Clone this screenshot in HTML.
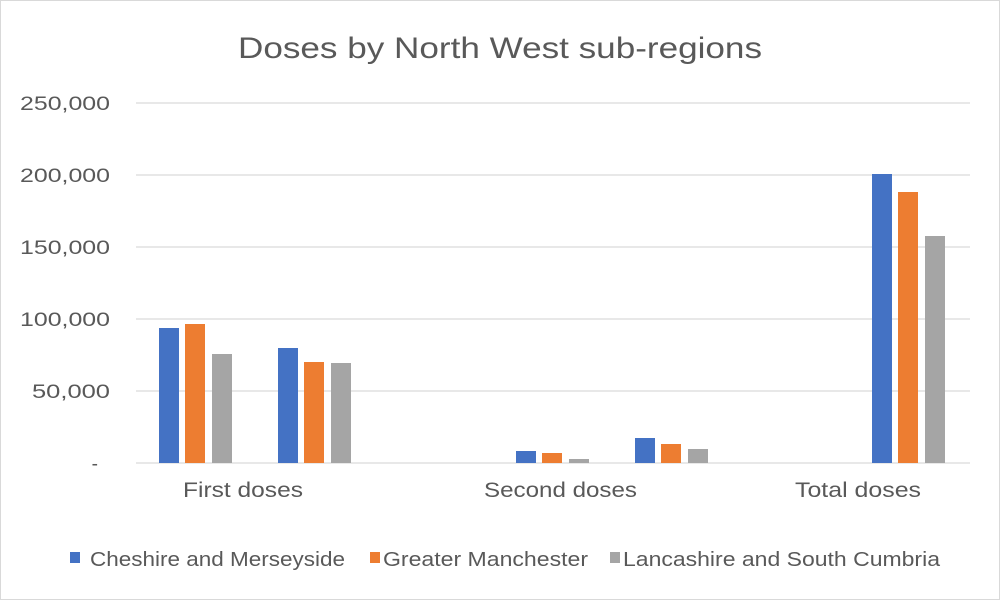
<!DOCTYPE html>
<html><head><meta charset="utf-8"><style>body{margin:0;background:#fff}svg{display:block}</style></head>
<body>
<svg width="1000" height="600" xmlns="http://www.w3.org/2000/svg" font-family="'Liberation Sans', sans-serif" fill="#595959">
<rect x="0.5" y="0.5" width="999" height="599" fill="#fff" stroke="#d9d9d9"/>
<text x="500" y="58" font-size="30" text-anchor="middle" textLength="524" lengthAdjust="spacingAndGlyphs">Doses by North West sub-regions</text>
<g stroke="#d9d9d9" stroke-width="1.3">
<line x1="136" x2="970" y1="103" y2="103"/><line x1="136" x2="970" y1="175" y2="175"/><line x1="136" x2="970" y1="247" y2="247"/>
<line x1="136" x2="970" y1="319" y2="319"/><line x1="136" x2="970" y1="391" y2="391"/><line x1="136" x2="970" y1="463" y2="463"/>
</g>
<g font-size="19" text-anchor="end">
<text x="110" y="110" textLength="90" lengthAdjust="spacingAndGlyphs">250,000</text>
<text x="110" y="182" textLength="90" lengthAdjust="spacingAndGlyphs">200,000</text>
<text x="110" y="254" textLength="90" lengthAdjust="spacingAndGlyphs">150,000</text>
<text x="110" y="326" textLength="90" lengthAdjust="spacingAndGlyphs">100,000</text>
<text x="110" y="398" textLength="78" lengthAdjust="spacingAndGlyphs">50,000</text>
<text x="98" y="470">-</text>
</g>
<g>
<rect x="159" y="328" width="20" height="135" fill="#4472c4"/>
<rect x="185" y="324" width="20" height="139" fill="#ed7d31"/>
<rect x="212" y="354" width="20" height="109" fill="#a5a5a5"/>
<rect x="278" y="348" width="20" height="115" fill="#4472c4"/>
<rect x="304" y="362" width="20" height="101" fill="#ed7d31"/>
<rect x="331" y="363" width="20" height="100" fill="#a5a5a5"/>
<rect x="516" y="451" width="20" height="12" fill="#4472c4"/>
<rect x="542" y="453" width="20" height="10" fill="#ed7d31"/>
<rect x="569" y="459" width="20" height="4" fill="#a5a5a5"/>
<rect x="635" y="438" width="20" height="25" fill="#4472c4"/>
<rect x="661" y="444" width="20" height="19" fill="#ed7d31"/>
<rect x="688" y="449" width="20" height="14" fill="#a5a5a5"/>
<rect x="872" y="174" width="20" height="289" fill="#4472c4"/>
<rect x="898" y="192" width="20" height="271" fill="#ed7d31"/>
<rect x="925" y="236" width="20" height="227" fill="#a5a5a5"/>
</g>
<g font-size="21">
<text x="183" y="497" textLength="120" lengthAdjust="spacingAndGlyphs">First doses</text>
<text x="484" y="497" textLength="153" lengthAdjust="spacingAndGlyphs">Second doses</text>
<text x="795" y="497" textLength="126" lengthAdjust="spacingAndGlyphs">Total doses</text>
</g>
<g font-size="20">
<rect x="70" y="552" width="10" height="11" fill="#4472c4"/>
<text x="90" y="566" textLength="255" lengthAdjust="spacingAndGlyphs">Cheshire and Merseyside</text>
<rect x="370" y="552" width="10" height="11" fill="#ed7d31"/>
<text x="383" y="566" textLength="205" lengthAdjust="spacingAndGlyphs">Greater Manchester</text>
<rect x="610" y="552" width="10" height="11" fill="#a5a5a5"/>
<text x="623" y="566" textLength="317" lengthAdjust="spacingAndGlyphs">Lancashire and South Cumbria</text>
</g>
</svg>
</body></html>
